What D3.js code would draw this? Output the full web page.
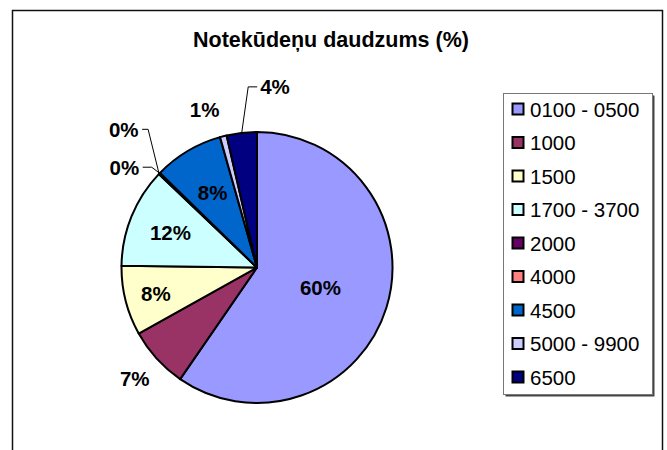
<!DOCTYPE html>
<html>
<head>
<meta charset="utf-8">
<script src="https://cdn.jsdelivr.net/npm/d3@7"></script>
<style>
  body { margin: 0; background: #fff; }
  svg { display: block; font-family: "Liberation Sans", Arial, sans-serif; }
</style>
</head>
<body>
<div id="chart"></div>
<script>
// chart data
var title = "Notekūdeņu daudzums (%)";
var categories = ["0100 - 0500", "1000", "1500", "1700 - 3700", "2000", "4000", "4500", "5000 - 9900", "6500"];
var shares = [59.6, 7.3, 8.3, 11.9, 0.1, 0.1, 8.3, 0.8, 3.6];

// excel-ish palette, one per slice
var sliceColors = ["#9999FF", "#993366", "#FFFFCC", "#CCFFFF", "#660066", "#FF8080", "#0066CC", "#CCCCFF", "#000080"];

var svgWidth = 667;
var svgHeight = 450;

// pie placement
var cx = 257, cy = 267.5, radius = 135.5;

// how each label sits: radius factor (inside/outside) or a leader line callout
var labelLayout = {
    "0100 - 0500": { k: 0.49 },
    "1000": { k: 1.22 },
    "1500": { k: 0.77 },
    "1700 - 3700": { k: 0.69 },
    "2000": { callout: [-11, -44.5], run: -6 },
    "4000": { callout: [-8, -6], run: -9 },
    "4500": { k: 0.64 },
    "5000 - 9900": { k: 1.2, dx: -12 },
    "6500": { callout: [6.5, -46], run: 9 }
};

var rows = categories.map(function(c, i) {
    return { name: c, value: shares[i], color: sliceColors[i] };
});

var svg = d3.select("#chart")
    .append("svg")
    .attr("width", svgWidth)
    .attr("height", svgHeight);

// outer chart frame (bottom runs off the page)
svg.append("rect")
    .attr("x", 12.5)
    .attr("y", 10.5)
    .attr("width", 650)
    .attr("height", 470)
    .attr("fill", "#fff")
    .attr("stroke", "#111")
    .attr("stroke-width", 1.5);

// title
svg.append("text")
    .attr("x", 331)
    .attr("y", 47)
    .attr("text-anchor", "middle")
    .style("font-size", "21.5px")
    .style("font-weight", "bold")
    .text(title);

var pie = d3.pie()
    .sort(null)
    .value(function(d) { return d.value; });

var arcs = pie(rows);

var arc = d3.arc()
    .innerRadius(0)
    .outerRadius(radius);

var pieGroup = svg.append("g")
    .attr("transform", `translate(${cx}, ${cy})`);

pieGroup.selectAll("path")
    .data(arcs)
    .enter()
    .append("path")
    .attr("d", arc)
    .attr("fill", function(d) { return d.data.color; })
    .attr("stroke", "#000")
    .attr("stroke-width", 2)
    .attr("stroke-linejoin", "round");

function pctText(d) {
    return Math.round(d.data.value) + "%";
}

// labels sitting on a ring
var ringed = arcs.filter(function(d) { return labelLayout[d.data.name].k; });
pieGroup.selectAll(".ring-label")
    .data(ringed)
    .enter()
    .append("text")
    .attr("class", "ring-label")
    .attr("transform", function(d) {
        var lay = labelLayout[d.data.name];
        var r = radius * lay.k;
        var p = d3.arc().innerRadius(r).outerRadius(r).centroid(d);
        return `translate(${p[0] + (lay.dx || 0)}, ${p[1]})`;
    })
    .attr("text-anchor", "middle")
    .attr("dy", "0.36em")
    .style("font-size", "20.5px")
    .style("font-weight", "bold")
    .text(pctText);

// labels with leader lines
var called = arcs.filter(function(d) { return labelLayout[d.data.name].callout; });
called.forEach(function(d) {
    var lay = labelLayout[d.data.name];
    var edge = d3.arc().innerRadius(radius).outerRadius(radius).centroid(d);
    var elbow = [edge[0] + lay.callout[0], edge[1] + lay.callout[1]];
    var end = [elbow[0] + lay.run, elbow[1]];

    pieGroup.append("path")
        .attr("d", d3.line()([edge, elbow, end]))
        .attr("fill", "none")
        .attr("stroke", "#000")
        .attr("stroke-width", 1);

    pieGroup.append("text")
        .attr("x", end[0] + (lay.run > 0 ? 3 : -3.5))
        .attr("y", end[1])
        .attr("dy", "0.36em")
        .attr("text-anchor", lay.run > 0 ? "start" : "end")
        .style("font-size", "20.5px")
        .style("font-weight", "bold")
        .text(pctText(d));
});

// legend
var legendX = 503.5, legendY = 93.5, legendW = 149, legendH = 301;
var rowStep = 33.5;

svg.append("rect")
    .attr("x", legendX + 2)
    .attr("y", legendY + 2)
    .attr("width", legendW)
    .attr("height", legendH)
    .attr("fill", "#444");

svg.append("rect")
    .attr("x", legendX)
    .attr("y", legendY)
    .attr("width", legendW)
    .attr("height", legendH)
    .attr("fill", "#fff")
    .attr("stroke", "#777")
    .attr("stroke-width", 1);

var legend = svg.append("g")
    .attr("transform", `translate(${legendX}, ${legendY})`);

var item = legend.selectAll(".item")
    .data(rows)
    .enter()
    .append("g")
    .attr("class", "item")
    .attr("transform", function(d, i) { return `translate(0, ${16 + i * rowStep})`; });

item.append("rect")
    .attr("x", 9)
    .attr("y", -6)
    .attr("width", 11)
    .attr("height", 11)
    .attr("fill", function(d) { return d.color; })
    .attr("stroke", "#000")
    .attr("stroke-width", 2);

item.append("text")
    .attr("x", 26.5)
    .attr("y", 0)
    .attr("dy", "0.36em")
    .style("font-size", "20.5px")
    .text(function(d) { return d.name; });
</script>
</body>
</html>
